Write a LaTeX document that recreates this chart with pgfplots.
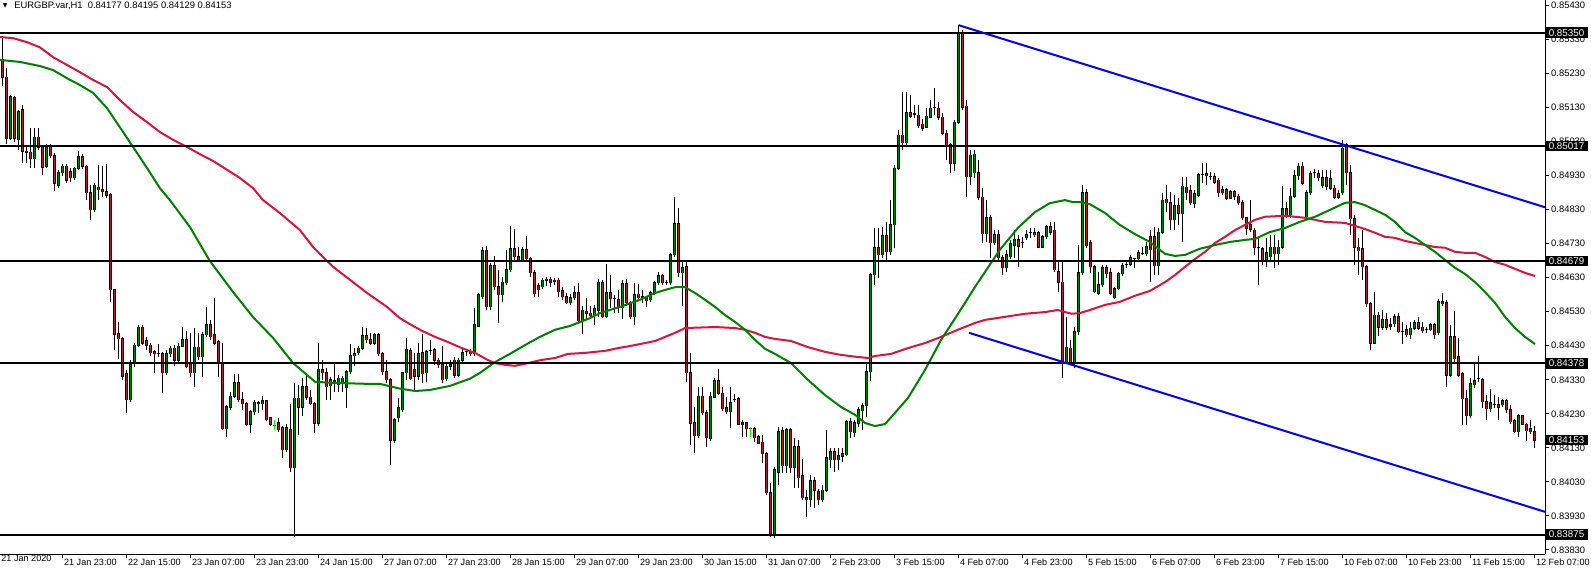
\documentclass[border=0pt]{standalone}
\usepackage{fontspec}
\setmainfont{Liberation Sans}
\newfontfamily\symfont{DejaVu Sans}
\usepackage{pgfplots}
\usepackage{pgfplotstable}
\pgfplotsset{compat=1.18}
\definecolor{bull}{RGB}{0,128,0}
\definecolor{bear}{RGB}{178,34,34}
\definecolor{mared}{RGB}{220,20,60}
\definecolor{magreen}{RGB}{0,128,0}
\pgfplotstableread{
j o h l c
0 0.85270 0.85340 0.85193 0.85219
1 0.85219 0.85246 0.85023 0.85040
2 0.85040 0.85167 0.85035 0.85161
3 0.85158 0.85164 0.85029 0.85040
4 0.85035 0.85123 0.85005 0.85117
5 0.85123 0.85137 0.84967 0.85002
6 0.85002 0.85017 0.84967 0.84999
7 0.84999 0.85069 0.84952 0.84979
8 0.84979 0.85069 0.84952 0.85043
9 0.85043 0.85069 0.85005 0.85014
10 0.85014 0.85020 0.84932 0.84955
11 0.84958 0.85023 0.84952 0.85014
12 0.85014 0.85023 0.84982 0.84988
13 0.84988 0.84996 0.84885 0.84908
14 0.84902 0.84947 0.84893 0.84938
15 0.84938 0.84964 0.84929 0.84958
16 0.84958 0.84964 0.84908 0.84917
17 0.84941 0.84952 0.84911 0.84923
18 0.84923 0.84955 0.84917 0.84952
19 0.84952 0.85002 0.84947 0.84985
20 0.84985 0.84993 0.84950 0.84958
21 0.84958 0.84961 0.84858 0.84879
22 0.84879 0.84902 0.84800 0.84829
23 0.84829 0.84908 0.84823 0.84902
24 0.84896 0.84961 0.84858 0.84888
25 0.84888 0.84958 0.84867 0.84882
26 0.84882 0.84964 0.84864 0.84873
27 0.84873 0.84879 0.84559 0.84594
28 0.84594 0.84597 0.84418 0.84462
29 0.84465 0.84500 0.84392 0.84450
30 0.84450 0.84456 0.84330 0.84341
31 0.84347 0.84359 0.84233 0.84271
32 0.84271 0.84388 0.84265 0.84382
33 0.84382 0.84438 0.84368 0.84432
34 0.84432 0.84491 0.84426 0.84485
35 0.84485 0.84491 0.84432 0.84438
36 0.84444 0.84456 0.84418 0.84432
37 0.84432 0.84438 0.84400 0.84409
38 0.84412 0.84418 0.84350 0.84406
39 0.84406 0.84435 0.84397 0.84406
40 0.84406 0.84412 0.84291 0.84350
41 0.84350 0.84418 0.84344 0.84406
42 0.84406 0.84429 0.84397 0.84423
43 0.84423 0.84432 0.84370 0.84388
44 0.84388 0.84438 0.84382 0.84429
45 0.84429 0.84485 0.84426 0.84447
46 0.84447 0.84474 0.84365 0.84368
47 0.84379 0.84468 0.84338 0.84350
48 0.84350 0.84482 0.84309 0.84426
49 0.84426 0.84468 0.84388 0.84397
50 0.84397 0.84471 0.84338 0.84462
51 0.84462 0.84544 0.84456 0.84491
52 0.84491 0.84506 0.84447 0.84456
53 0.84462 0.84571 0.84432 0.84438
54 0.84441 0.84447 0.84338 0.84379
55 0.84379 0.84438 0.84183 0.84186
56 0.84186 0.84256 0.84162 0.84250
57 0.84250 0.84294 0.84242 0.84282
58 0.84282 0.84347 0.84276 0.84321
59 0.84321 0.84347 0.84265 0.84271
60 0.84271 0.84294 0.84242 0.84259
61 0.84259 0.84265 0.84194 0.84200
62 0.84200 0.84242 0.84174 0.84236
63 0.84236 0.84271 0.84227 0.84262
64 0.84262 0.84268 0.84233 0.84259
65 0.84259 0.84282 0.84242 0.84268
66 0.84268 0.84271 0.84209 0.84212
67 0.84218 0.84221 0.84194 0.84200
68 0.84197 0.84212 0.84183 0.84197
69 0.84203 0.84218 0.84177 0.84183
70 0.84189 0.84194 0.84101 0.84124
71 0.84124 0.84200 0.84118 0.84189
72 0.84183 0.84259 0.84059 0.84071
73 0.84071 0.84321 0.83869 0.84276
74 0.84276 0.84315 0.84168 0.84250
75 0.84250 0.84335 0.84224 0.84309
76 0.84309 0.84341 0.84271 0.84279
77 0.84279 0.84300 0.84256 0.84259
78 0.84259 0.84265 0.84174 0.84203
79 0.84203 0.84438 0.84194 0.84359
80 0.84359 0.84388 0.84330 0.84350
81 0.84350 0.84365 0.84271 0.84309
82 0.84312 0.84338 0.84271 0.84330
83 0.84327 0.84379 0.84294 0.84321
84 0.84315 0.84344 0.84294 0.84335
85 0.84321 0.84341 0.84294 0.84335
86 0.84306 0.84359 0.84248 0.84353
87 0.84353 0.84435 0.84347 0.84400
88 0.84400 0.84423 0.84370 0.84406
89 0.84409 0.84429 0.84403 0.84423
90 0.84423 0.84485 0.84418 0.84459
91 0.84459 0.84482 0.84438 0.84447
92 0.84447 0.84468 0.84432 0.84438
93 0.84438 0.84468 0.84432 0.84462
94 0.84462 0.84468 0.84400 0.84406
95 0.84406 0.84412 0.84344 0.84353
96 0.84353 0.84388 0.84321 0.84330
97 0.84330 0.84335 0.84080 0.84153
98 0.84153 0.84218 0.84144 0.84212
99 0.84218 0.84276 0.84206 0.84248
100 0.84242 0.84353 0.84236 0.84350
101 0.84350 0.84453 0.84330 0.84418
102 0.84415 0.84423 0.84330 0.84333
103 0.84359 0.84409 0.84300 0.84341
104 0.84341 0.84438 0.84330 0.84406
105 0.84409 0.84465 0.84321 0.84347
106 0.84350 0.84418 0.84324 0.84412
107 0.84415 0.84447 0.84403 0.84415
108 0.84418 0.84423 0.84374 0.84388
109 0.84388 0.84394 0.84365 0.84374
110 0.84374 0.84429 0.84321 0.84330
111 0.84333 0.84377 0.84327 0.84370
112 0.84370 0.84388 0.84359 0.84374
113 0.84388 0.84397 0.84335 0.84344
114 0.84344 0.84394 0.84338 0.84388
115 0.84388 0.84423 0.84382 0.84409
116 0.84412 0.84418 0.84400 0.84412
117 0.84412 0.84421 0.84400 0.84406
118 0.84406 0.84541 0.84400 0.84491
119 0.84488 0.84585 0.84485 0.84580
120 0.84574 0.84720 0.84568 0.84709
121 0.84709 0.84723 0.84535 0.84544
122 0.84544 0.84673 0.84535 0.84665
123 0.84665 0.84694 0.84594 0.84603
124 0.84603 0.84653 0.84497 0.84580
125 0.84580 0.84632 0.84559 0.84617
126 0.84615 0.84712 0.84609 0.84653
127 0.84653 0.84782 0.84647 0.84715
128 0.84715 0.84773 0.84682 0.84691
129 0.84691 0.84720 0.84676 0.84682
130 0.84682 0.84720 0.84679 0.84712
131 0.84712 0.84753 0.84676 0.84685
132 0.84685 0.84691 0.84632 0.84644
133 0.84644 0.84653 0.84574 0.84585
134 0.84606 0.84615 0.84574 0.84594
135 0.84603 0.84629 0.84597 0.84623
136 0.84626 0.84632 0.84606 0.84623
137 0.84626 0.84632 0.84603 0.84617
138 0.84623 0.84629 0.84609 0.84620
139 0.84623 0.84629 0.84574 0.84588
140 0.84591 0.84603 0.84565 0.84574
141 0.84574 0.84585 0.84553 0.84556
142 0.84556 0.84582 0.84550 0.84571
143 0.84571 0.84606 0.84565 0.84585
144 0.84585 0.84615 0.84500 0.84503
145 0.84503 0.84547 0.84465 0.84535
146 0.84532 0.84571 0.84506 0.84526
147 0.84526 0.84547 0.84512 0.84518
148 0.84518 0.84550 0.84491 0.84538
149 0.84535 0.84626 0.84515 0.84615
150 0.84615 0.84623 0.84512 0.84515
151 0.84515 0.84670 0.84512 0.84585
152 0.84585 0.84638 0.84541 0.84568
153 0.84568 0.84580 0.84526 0.84568
154 0.84565 0.84594 0.84526 0.84541
155 0.84541 0.84623 0.84509 0.84612
156 0.84612 0.84626 0.84547 0.84556
157 0.84556 0.84562 0.84509 0.84515
158 0.84515 0.84615 0.84491 0.84580
159 0.84582 0.84612 0.84565 0.84571
160 0.84574 0.84594 0.84556 0.84568
161 0.84571 0.84577 0.84544 0.84562
162 0.84565 0.84591 0.84559 0.84585
163 0.84585 0.84620 0.84580 0.84615
164 0.84615 0.84647 0.84609 0.84635
165 0.84635 0.84641 0.84609 0.84615
166 0.84615 0.84623 0.84609 0.84615
167 0.84615 0.84703 0.84609 0.84697
168 0.84697 0.84867 0.84691 0.84788
169 0.84788 0.84835 0.84632 0.84644
170 0.84644 0.84679 0.84547 0.84659
171 0.84662 0.84676 0.84324 0.84350
172 0.84350 0.84409 0.84138 0.84203
173 0.84203 0.84250 0.84115 0.84165
174 0.84165 0.84309 0.84159 0.84282
175 0.84282 0.84309 0.84227 0.84233
176 0.84233 0.84242 0.84133 0.84159
177 0.84156 0.84294 0.84150 0.84282
178 0.84279 0.84335 0.84276 0.84327
179 0.84327 0.84362 0.84286 0.84291
180 0.84291 0.84309 0.84239 0.84245
181 0.84248 0.84279 0.84230 0.84236
182 0.84236 0.84309 0.84189 0.84262
183 0.84271 0.84288 0.84265 0.84271
184 0.84274 0.84279 0.84197 0.84200
185 0.84203 0.84212 0.84162 0.84200
186 0.84203 0.84206 0.84162 0.84186
187 0.84186 0.84192 0.84162 0.84186
188 0.84186 0.84192 0.84147 0.84159
189 0.84162 0.84168 0.84141 0.84144
190 0.84147 0.84168 0.84086 0.84112
191 0.84112 0.84118 0.83992 0.83998
192 0.83998 0.84027 0.83869 0.83875
193 0.83875 0.84074 0.83866 0.84065
194 0.84059 0.84192 0.84021 0.84177
195 0.84180 0.84192 0.84056 0.84077
196 0.84077 0.84189 0.84056 0.84183
197 0.84183 0.84189 0.84056 0.84071
198 0.84071 0.84159 0.84012 0.84133
199 0.84133 0.84153 0.84012 0.84042
200 0.84048 0.84098 0.83977 0.83983
201 0.83983 0.84006 0.83927 0.83977
202 0.83977 0.84050 0.83957 0.84033
203 0.84033 0.84045 0.83954 0.84006
204 0.84003 0.84009 0.83962 0.83977
205 0.83977 0.84021 0.83971 0.84006
206 0.84006 0.84183 0.84000 0.84101
207 0.84095 0.84130 0.84071 0.84118
208 0.84118 0.84130 0.84059 0.84095
209 0.84095 0.84130 0.84065 0.84106
210 0.84106 0.84130 0.84089 0.84112
211 0.84109 0.84212 0.84106 0.84206
212 0.84206 0.84218 0.84159 0.84177
213 0.84174 0.84212 0.84162 0.84203
214 0.84203 0.84250 0.84192 0.84242
215 0.84239 0.84262 0.84183 0.84253
216 0.84253 0.84382 0.84221 0.84353
217 0.84353 0.84644 0.84327 0.84638
218 0.84638 0.84776 0.84609 0.84718
219 0.84718 0.84776 0.84629 0.84697
220 0.84697 0.84779 0.84688 0.84753
221 0.84753 0.84794 0.84676 0.84706
222 0.84706 0.84858 0.84697 0.84785
223 0.84785 0.84961 0.84718 0.84952
224 0.84952 0.85064 0.84947 0.85049
225 0.85049 0.85176 0.85005 0.85026
226 0.85026 0.85176 0.85020 0.85114
227 0.85114 0.85167 0.85099 0.85105
228 0.85111 0.85137 0.85099 0.85111
229 0.85108 0.85137 0.85069 0.85078
230 0.85081 0.85096 0.85061 0.85069
231 0.85072 0.85128 0.85069 0.85105
232 0.85102 0.85152 0.85099 0.85128
233 0.85131 0.85187 0.85108 0.85131
234 0.85128 0.85146 0.85093 0.85102
235 0.85102 0.85114 0.85049 0.85055
236 0.85055 0.85064 0.84976 0.85020
237 0.85020 0.85026 0.84938 0.84967
238 0.84967 0.85093 0.84944 0.85087
239 0.85087 0.85372 0.85081 0.85349
240 0.85349 0.85358 0.85123 0.85131
241 0.85134 0.85152 0.84867 0.84926
242 0.84926 0.85005 0.84902 0.84990
243 0.84938 0.85005 0.84923 0.84993
244 0.84938 0.84976 0.84858 0.84867
245 0.84867 0.84893 0.84732 0.84759
246 0.84759 0.84858 0.84735 0.84806
247 0.84806 0.84815 0.84688 0.84732
248 0.84732 0.84770 0.84726 0.84756
249 0.84756 0.84770 0.84682 0.84688
250 0.84688 0.84697 0.84638 0.84659
251 0.84659 0.84712 0.84647 0.84697
252 0.84691 0.84741 0.84685 0.84729
253 0.84726 0.84770 0.84688 0.84741
254 0.84741 0.84756 0.84662 0.84723
255 0.84732 0.84750 0.84718 0.84732
256 0.84747 0.84770 0.84741 0.84756
257 0.84762 0.84776 0.84747 0.84762
258 0.84762 0.84776 0.84750 0.84756
259 0.84762 0.84767 0.84718 0.84720
260 0.84720 0.84756 0.84718 0.84750
261 0.84750 0.84785 0.84744 0.84779
262 0.84779 0.84794 0.84756 0.84764
263 0.84770 0.84794 0.84647 0.84653
264 0.84647 0.84676 0.84588 0.84617
265 0.84617 0.84676 0.84335 0.84382
266 0.84382 0.84515 0.84377 0.84426
267 0.84423 0.84447 0.84374 0.84382
268 0.84382 0.84485 0.84365 0.84471
269 0.84471 0.84726 0.84462 0.84644
270 0.84644 0.84902 0.84638 0.84879
271 0.84879 0.84891 0.84718 0.84726
272 0.84732 0.84741 0.84644 0.84662
273 0.84588 0.84668 0.84585 0.84662
274 0.84585 0.84647 0.84580 0.84609
275 0.84609 0.84668 0.84603 0.84659
276 0.84659 0.84668 0.84629 0.84641
277 0.84644 0.84659 0.84580 0.84585
278 0.84571 0.84603 0.84568 0.84597
279 0.84597 0.84647 0.84594 0.84641
280 0.84641 0.84673 0.84635 0.84665
281 0.84668 0.84676 0.84659 0.84668
282 0.84670 0.84697 0.84665 0.84688
283 0.84685 0.84688 0.84659 0.84685
284 0.84685 0.84712 0.84682 0.84703
285 0.84700 0.84720 0.84697 0.84700
286 0.84700 0.84735 0.84694 0.84723
287 0.84750 0.84770 0.84617 0.84712
288 0.84750 0.84779 0.84638 0.84665
289 0.84665 0.84776 0.84638 0.84764
290 0.84764 0.84879 0.84759 0.84858
291 0.84861 0.84902 0.84823 0.84850
292 0.84850 0.84882 0.84770 0.84800
293 0.84800 0.84873 0.84770 0.84841
294 0.84841 0.84864 0.84785 0.84820
295 0.84820 0.84926 0.84735 0.84899
296 0.84896 0.84926 0.84858 0.84879
297 0.84885 0.84902 0.84844 0.84850
298 0.84847 0.84888 0.84835 0.84876
299 0.84873 0.84938 0.84867 0.84932
300 0.84932 0.84967 0.84908 0.84932
301 0.84935 0.84967 0.84902 0.84929
302 0.84926 0.84941 0.84917 0.84926
303 0.84926 0.84938 0.84905 0.84911
304 0.84917 0.84923 0.84867 0.84879
305 0.84879 0.84899 0.84873 0.84888
306 0.84888 0.84893 0.84858 0.84864
307 0.84864 0.84888 0.84861 0.84882
308 0.84882 0.84888 0.84858 0.84870
309 0.84870 0.84876 0.84844 0.84850
310 0.84850 0.84858 0.84800 0.84806
311 0.84806 0.84809 0.84756 0.84776
312 0.84785 0.84858 0.84764 0.84773
313 0.84770 0.84776 0.84697 0.84718
314 0.84718 0.84750 0.84609 0.84718
315 0.84715 0.84720 0.84668 0.84682
316 0.84682 0.84747 0.84662 0.84703
317 0.84691 0.84756 0.84676 0.84720
318 0.84720 0.84756 0.84659 0.84700
319 0.84700 0.84741 0.84668 0.84720
320 0.84720 0.84899 0.84715 0.84832
321 0.84832 0.84852 0.84806 0.84815
322 0.84815 0.84893 0.84806 0.84870
323 0.84870 0.84947 0.84864 0.84929
324 0.84929 0.84967 0.84917 0.84958
325 0.84958 0.84970 0.84902 0.84908
326 0.84809 0.84888 0.84806 0.84879
327 0.84879 0.84944 0.84873 0.84935
328 0.84938 0.84950 0.84923 0.84938
329 0.84935 0.84947 0.84914 0.84923
330 0.84902 0.84947 0.84893 0.84923
331 0.84923 0.84947 0.84888 0.84899
332 0.84893 0.84947 0.84888 0.84920
333 0.84893 0.84902 0.84861 0.84867
334 0.84867 0.84888 0.84861 0.84876
335 0.84879 0.85035 0.84873 0.85011
336 0.85020 0.85026 0.84902 0.84938
337 0.84938 0.84961 0.84756 0.84803
338 0.84803 0.84815 0.84668 0.84720
339 0.84720 0.84747 0.84638 0.84709
340 0.84715 0.84770 0.84623 0.84662
341 0.84662 0.84668 0.84544 0.84553
342 0.84553 0.84559 0.84418 0.84438
343 0.84438 0.84588 0.84435 0.84520
344 0.84520 0.84529 0.84459 0.84485
345 0.84485 0.84535 0.84477 0.84506
346 0.84506 0.84526 0.84477 0.84485
347 0.84491 0.84512 0.84477 0.84488
348 0.84494 0.84524 0.84485 0.84515
349 0.84515 0.84526 0.84468 0.84471
350 0.84471 0.84500 0.84435 0.84471
351 0.84477 0.84491 0.84456 0.84462
352 0.84462 0.84500 0.84450 0.84482
353 0.84482 0.84506 0.84477 0.84497
354 0.84497 0.84515 0.84477 0.84482
355 0.84485 0.84500 0.84468 0.84474
356 0.84477 0.84485 0.84468 0.84477
357 0.84477 0.84497 0.84474 0.84491
358 0.84491 0.84497 0.84450 0.84462
359 0.84468 0.84568 0.84462 0.84559
360 0.84559 0.84585 0.84547 0.84553
361 0.84556 0.84565 0.84309 0.84344
362 0.84344 0.84491 0.84338 0.84456
363 0.84456 0.84532 0.84382 0.84392
364 0.84397 0.84453 0.84338 0.84344
365 0.84347 0.84353 0.84197 0.84274
366 0.84274 0.84300 0.84197 0.84224
367 0.84224 0.84335 0.84218 0.84318
368 0.84315 0.84382 0.84306 0.84327
369 0.84333 0.84400 0.84324 0.84333
370 0.84330 0.84335 0.84248 0.84265
371 0.84265 0.84286 0.84212 0.84245
372 0.84245 0.84303 0.84236 0.84262
373 0.84256 0.84286 0.84248 0.84256
374 0.84256 0.84279 0.84212 0.84250
375 0.84256 0.84274 0.84250 0.84268
376 0.84268 0.84274 0.84233 0.84242
377 0.84242 0.84256 0.84200 0.84206
378 0.84209 0.84215 0.84174 0.84177
379 0.84177 0.84230 0.84162 0.84224
380 0.84224 0.84227 0.84197 0.84200
381 0.84200 0.84203 0.84150 0.84180
382 0.84177 0.84212 0.84171 0.84186
383 0.84177 0.84195 0.84129 0.84153
}\candles
\pgfplotstableread{
j p
-0.7 0.85270
4.3 0.85264
9.3 0.85252
12.6 0.85240
16.1 0.85216
19.3 0.85196
22.6 0.85173
26.1 0.85128
29.3 0.85072
32.6 0.85014
36.1 0.84952
39.3 0.84893
41.8 0.84858
46.8 0.84779
51.8 0.84679
57.6 0.84588
62.6 0.84514
67.6 0.84453
72.6 0.84379
76.1 0.84344
78.1 0.84324
82.6 0.84321
91.1 0.84318
94.3 0.84318
99.3 0.84304
103.1 0.84297
106.8 0.84300
111.8 0.84312
116.8 0.84333
119.3 0.84350
123.1 0.84382
126.8 0.84406
130.6 0.84432
134.3 0.84456
138.1 0.84477
141.8 0.84488
146.8 0.84511
149.3 0.84526
154.3 0.84544
159.3 0.84565
163.1 0.84585
165.6 0.84594
168.1 0.84602
170.6 0.84602
173.1 0.84585
175.6 0.84565
178.1 0.84544
180.6 0.84520
183.1 0.84500
185.6 0.84477
188.1 0.84447
190.6 0.84421
193.1 0.84406
197.1 0.84379
201.3 0.84330
205.6 0.84285
209.6 0.84250
213.1 0.84227
215.6 0.84203
218.1 0.84194
220.6 0.84200
223.1 0.84233
226.3 0.84276
230.6 0.84359
234.6 0.84447
238.8 0.84523
240.6 0.84556
243.1 0.84603
245.6 0.84647
249.3 0.84712
253.8 0.84776
258.1 0.84823
261.8 0.84849
265.6 0.84858
267.6 0.84852
269.3 0.84852
271.8 0.84846
275.6 0.84820
279.3 0.84785
283.1 0.84758
286.8 0.84735
290.6 0.84700
293.1 0.84694
295.6 0.84697
299.3 0.84715
303.1 0.84726
306.8 0.84735
310.6 0.84741
313.1 0.84744
316.8 0.84764
320.6 0.84776
324.3 0.84794
328.1 0.84809
331.8 0.84829
335.6 0.84850
338.1 0.84852
340.6 0.84843
343.1 0.84829
345.6 0.84815
348.1 0.84794
350.6 0.84764
353.1 0.84747
355.6 0.84726
358.1 0.84706
360.6 0.84682
363.1 0.84659
365.6 0.84641
368.1 0.84617
370.6 0.84588
373.1 0.84556
375.6 0.84515
378.1 0.84482
380.6 0.84456
383.1 0.84435
}\greenma
\pgfplotstableread{
j p
-0.7 0.85337
2.6 0.85334
6.1 0.85322
9.3 0.85307
12.6 0.85278
16.1 0.85255
19.3 0.85234
22.6 0.85211
26.1 0.85190
29.3 0.85152
32.6 0.85117
36.1 0.85087
39.3 0.85058
42.6 0.85035
46.1 0.85014
49.3 0.84993
52.6 0.84973
56.1 0.84947
59.3 0.84923
62.6 0.84893
65.1 0.84858
69.3 0.84820
74.3 0.84770
77.6 0.84720
81.1 0.84679
82.6 0.84662
91.1 0.84585
96.1 0.84544
99.3 0.84511
101.3 0.84497
104.8 0.84474
108.1 0.84456
111.3 0.84441
114.8 0.84423
118.1 0.84409
121.3 0.84388
123.1 0.84379
125.6 0.84374
128.1 0.84371
131.3 0.84379
134.6 0.84388
138.1 0.84394
141.3 0.84406
145.6 0.84409
150.6 0.84415
153.8 0.84423
156.8 0.84429
160.6 0.84438
163.1 0.84444
165.6 0.84456
168.1 0.84468
170.6 0.84482
178.1 0.84485
183.1 0.84482
185.6 0.84477
188.1 0.84468
190.6 0.84456
193.1 0.84450
197.1 0.84444
201.3 0.84426
205.6 0.84412
209.6 0.84403
213.8 0.84397
216.3 0.84394
218.1 0.84400
222.1 0.84406
226.3 0.84423
230.6 0.84438
234.6 0.84456
238.8 0.84477
243.1 0.84497
245.6 0.84506
250.6 0.84515
255.6 0.84524
260.6 0.84529
263.8 0.84535
265.6 0.84529
267.3 0.84524
269.3 0.84526
271.8 0.84535
275.6 0.84550
279.3 0.84559
283.1 0.84577
286.8 0.84591
290.6 0.84617
293.1 0.84638
295.6 0.84662
298.1 0.84685
300.6 0.84706
303.1 0.84732
305.6 0.84750
308.1 0.84770
310.6 0.84785
313.1 0.84800
315.6 0.84809
320.6 0.84812
323.1 0.84809
325.6 0.84806
328.1 0.84800
330.6 0.84794
335.6 0.84791
338.1 0.84782
340.6 0.84773
343.1 0.84762
345.6 0.84750
348.1 0.84747
350.6 0.84738
353.1 0.84732
355.6 0.84726
358.1 0.84720
360.6 0.84718
363.1 0.84706
365.6 0.84703
368.1 0.84703
370.6 0.84691
373.1 0.84676
375.6 0.84668
378.1 0.84656
380.6 0.84644
383.1 0.84635
}\redma
\newcommand{\lblfont}{\fontsize{4.7pt}{5pt}\selectfont}
\newcommand{\boxfont}{\fontsize{4.9pt}{5pt}\selectfont}
\newcommand{\xlblfont}{\fontsize{4.55pt}{5pt}\selectfont}
\pgfplotsset{
  candle/.style 2 args={draw=none, mark=none, forget plot,
    error bars/.cd, y dir=plus, y explicit, error mark=none,
    error mark options={draw=none, fill=none, mark size=0pt},
    error bar style={draw=#1, line width=#2}},
}
\tikzset{
  pricebox/.style={fill=black, text=white, anchor=west, inner xsep=1.7pt, inner ysep=0pt, minimum height=5.4pt, font=\boxfont},
}
\begin{document}
\begin{tikzpicture}
\useasboundingbox (0,0) rectangle (795.5pt,284.5pt);
\begin{axis}[
  at={(0pt,7.5pt)}, anchor=south west,
  scale only axis, width=772.5pt, height=277pt,
  xmin=-0.675, xmax=385.6, ymin=0.83818, ymax=0.85446,
  axis x line*=bottom, axis y line*=right,
  axis line style={-, black, line width=0.5pt},
  tick align=outside, major tick length=2pt,
  tick style={black, line width=0.5pt},
  xtick={15,31,...,383},
  xticklabels={21 Jan 23:00,22 Jan 15:00,23 Jan 07:00,23 Jan 23:00,24 Jan 15:00,27 Jan 07:00,27 Jan 23:00,28 Jan 15:00,29 Jan 07:00,29 Jan 23:00,30 Jan 15:00,31 Jan 07:00,2 Feb 23:00,3 Feb 15:00,4 Feb 07:00,4 Feb 23:00,5 Feb 15:00,6 Feb 07:00,6 Feb 23:00,7 Feb 15:00,10 Feb 07:00,10 Feb 23:00,11 Feb 15:00,12 Feb 07:00},
  extra x ticks={-0.675}, extra x tick labels={21 Jan 2020},
  extra x tick style={major tick length=0pt},
  ytick={0.8383,0.8393,0.8403,0.8413,0.8423,0.8433,0.8443,0.8453,0.8463,0.8473,0.8483,0.8493,0.8503,0.8513,0.8523,0.8533,0.8543},
  yticklabels={0.83830,0.83930,0.84030,0.84130,0.84230,0.84330,0.84430,0.84530,0.84630,0.84730,0.84830,0.84930,0.85030,0.85130,0.85230,0.85330,0.85430},
  yticklabel style={font=\lblfont, anchor=west, inner sep=0.5pt, xshift=0.4pt},
  xticklabel style={font=\xlblfont, anchor=north west, inner sep=0.5pt, xshift=0pt, yshift=0pt},
  clip mode=individual,
]
% wicks
\addplot[candle={black}{0.5pt}]
  table[x=j, y=l, y error expr={\thisrow{h}-\thisrow{l}}] {\candles};
% body outline
\addplot[candle={black}{1.6pt}]
  table[x=j, y expr={min(\thisrow{o},\thisrow{c})-0.000015}, y error expr={abs(\thisrow{c}-\thisrow{o})+0.00003}] {\candles};
% bull fill
\addplot[candle={bull}{0.6pt}]
  table[x=j, y=o, y error expr={max(\thisrow{c}-\thisrow{o},0)}] {\candles};
% bear fill
\addplot[candle={bear}{0.6pt}]
  table[x=j, y=c, y error expr={max(\thisrow{o}-\thisrow{c},0)}] {\candles};
% lime doji crosses
\addplot[candle={green}{0.5pt}]
  coordinates {(68,0.84183) +- (0,0.00029) (187,0.84162) +- (0,0.00030)};
% moving averages
\addplot[mared, line width=1pt, mark=none] table[x=j, y=p] {\redma};
\addplot[magreen, line width=1pt, mark=none] table[x=j, y=p] {\greenma};
% horizontal levels
\addplot[black, line width=1pt, mark=none] coordinates {(-0.675,0.85350) (385.6,0.85350)};
\addplot[black, line width=1pt, mark=none] coordinates {(-0.675,0.85017) (385.6,0.85017)};
\addplot[black, line width=1pt, mark=none] coordinates {(-0.675,0.84679) (385.6,0.84679)};
\addplot[black, line width=1pt, mark=none] coordinates {(-0.675,0.84378) (385.6,0.84378)};
\addplot[black, line width=1pt, mark=none] coordinates {(-0.675,0.83875) (385.6,0.83875)};
% trend lines
\addplot[blue, line width=1pt, mark=none] coordinates {(239,0.85372) (385.6,0.84837)};
\addplot[blue, line width=1pt, mark=none] coordinates {(241.6,0.84468) (385.6,0.83942)};
% price boxes
\node[pricebox] at (axis cs:385.6,0.85350) {0.85350};
\node[pricebox] at (axis cs:385.6,0.85017) {0.85017};
\node[pricebox] at (axis cs:385.6,0.84679) {0.84679};
\node[pricebox] at (axis cs:385.6,0.84378) {0.84378};
\node[pricebox] at (axis cs:385.6,0.83875) {0.83875};
\node[pricebox] at (axis cs:385.6,0.84153) {0.84153};
% title
\node[anchor=west, inner sep=0pt, font=\fontsize{4.7pt}{5pt}\selectfont] at (rel axis cs:0,1) [xshift=7pt, yshift=-3pt] {EURGBP.var,H1\ \ 0.84177 0.84195 0.84129 0.84153};
\node[anchor=west, inner sep=0pt, font=\symfont\fontsize{3pt}{3pt}\selectfont] at (rel axis cs:0,1) [xshift=1.3pt, yshift=-3pt] {▼};
\end{axis}
\end{tikzpicture}
\end{document}
